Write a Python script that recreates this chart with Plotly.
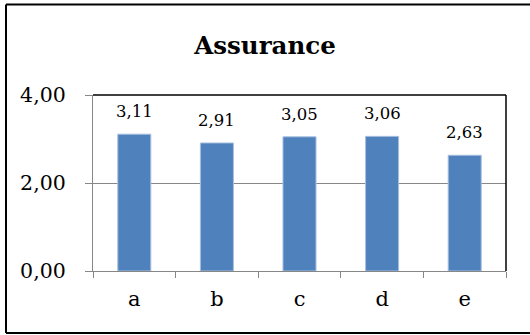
import plotly.graph_objects as go

categories = ["a", "b", "c", "d", "e"]
values = [3.11, 2.91, 3.05, 3.06, 2.63]
y_tick_values = [0, 2, 4]
y_tick_labels = ["0,00", "2,00", "4,00"]
title_text = "Assurance"

W, H = 530, 335
ML, MR, MT, MB = 93, 24, 95, 64
PW, PH = W - ML - MR, H - MT - MB

FONT = "DejaVu Serif"
AXIS_GRAY = "#878787"

fig = go.Figure(
    go.Bar(
        x=categories,
        y=values,
        marker=dict(color="#4F81BD", line=dict(color="#A9C0DF", width=1)),
        width=0.4,
        hoverinfo="skip",
    )
)

for c, v in zip(categories, values):
    fig.add_annotation(
        x=c, y=v, text=f"{v:.2f}".replace(".", ","),
        showarrow=False, yanchor="bottom", yshift=11,
        font=dict(family=FONT, size=16.5, color="black"),
    )

def px_to_paper_x(px):
    return (px - ML) / PW

def px_to_paper_y(py):
    return (H - MB - py) / PH

# outer chart border (top, left, bottom; right edge lies outside the picture)
bx0, bx1 = px_to_paper_x(6), px_to_paper_x(600)
by0, by1 = px_to_paper_y(333), px_to_paper_y(4.5)
for x0, x1, y0, y1 in [(bx0, bx1, by1, by1), (bx0, bx0, by0, by1), (bx0, bx1, by0, by0)]:
    fig.add_shape(type="line", xref="paper", yref="paper", x0=x0, x1=x1, y0=y0, y1=y1,
                  line=dict(color="black", width=2), layer="above")
# plot area top and right edges
fig.add_shape(type="line", xref="paper", yref="paper", x0=0, x1=1, y0=1, y1=1,
              line=dict(color="black", width=1.5), layer="above")
fig.add_shape(type="line", xref="paper", yref="paper", x0=1, x1=1, y0=0, y1=1,
              line=dict(color="black", width=1.5), layer="above")

fig.update_layout(
    width=W, height=H,
    margin=dict(l=ML, r=MR, t=MT, b=MB),
    paper_bgcolor="white", plot_bgcolor="white",
    showlegend=False,
    font=dict(family=FONT, color="black"),
    title=dict(text=f"<b>{title_text}</b>", x=0.5, xref="container", xanchor="center",
               y=1 - 45 / H, yref="container", yanchor="middle",
               font=dict(family=FONT, size=24.5, color="black")),
)
fig.update_xaxes(
    type="category", showline=True, linecolor=AXIS_GRAY, linewidth=1.3,
    ticks="outside", tickson="boundaries", ticklen=6, tickcolor=AXIS_GRAY, tickwidth=1.3,
    showgrid=False, tickfont=dict(family=FONT, size=21, color="black"),
    ticklabelstandoff=9, fixedrange=True,
)
fig.update_yaxes(
    range=[0, 4], tickvals=y_tick_values, ticktext=y_tick_labels,
    showline=True, linecolor=AXIS_GRAY, linewidth=1.3,
    ticks="outside", ticklen=7, tickcolor=AXIS_GRAY, tickwidth=1.3,
    showgrid=True, gridcolor=AXIS_GRAY, gridwidth=1.3, zeroline=False,
    tickfont=dict(family=FONT, size=20.5, color="black"),
    ticklabelstandoff=15, fixedrange=True,
)

fig.write_html("out.html", config=dict(displayModeBar=False),
               post_script="document.body.style.margin='0';document.body.style.overflow='hidden';")
